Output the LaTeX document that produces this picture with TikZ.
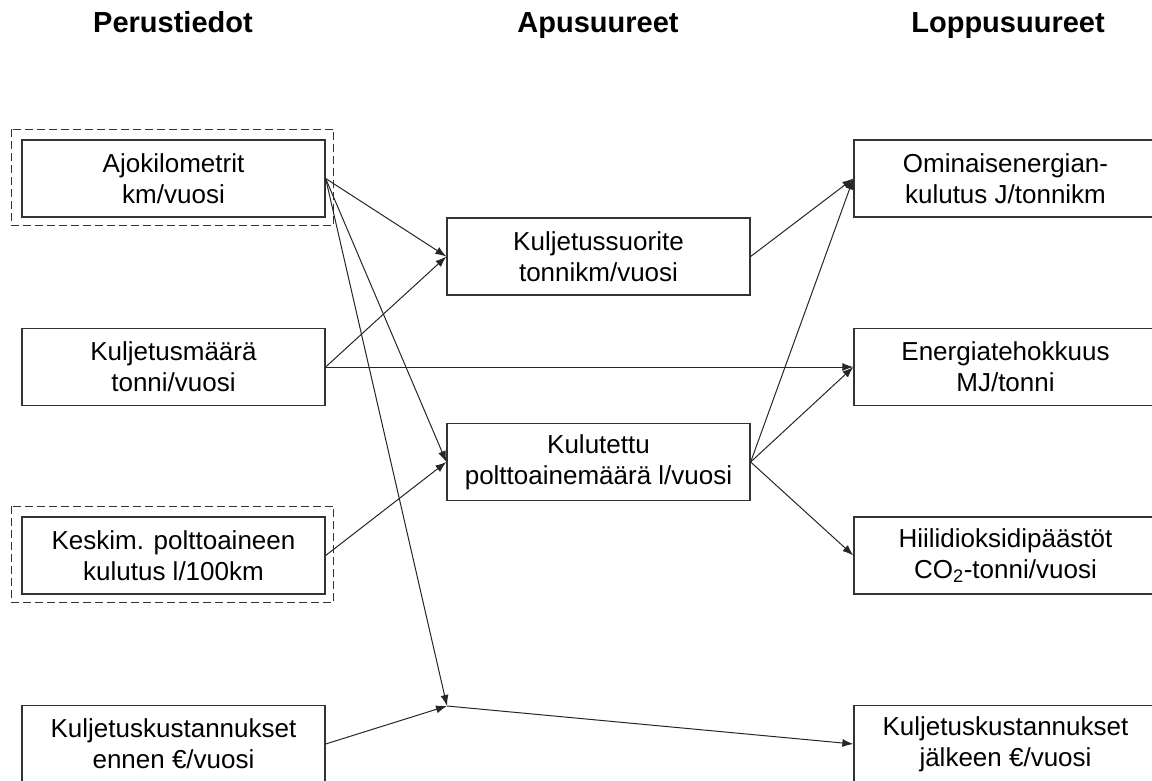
\documentclass[tikz,border=0pt]{standalone}
\usepackage{fontspec}
\setmainfont{Liberation Sans}
\usetikzlibrary{arrows.meta}
\begin{document}
\begin{tikzpicture}[x=1pt,y=-1pt,
  box/.style={draw=black!80, line width=1.3pt, minimum width=303pt, minimum height=77pt,
    inner sep=0pt, align=center, font=\fontsize{26}{31}\selectfont},
  head/.style={font=\fontsize{29}{34}\selectfont\bfseries, anchor=base},
  conn/.style={draw=black!85, line width=1pt, -{Latex[length=11pt,width=8pt]}},
  dbox/.style={draw=black!80, line width=1.3pt, dash pattern=on 8pt off 4pt}]
\useasboundingbox (0,0) rectangle (1152,781);

% headers
\node[head] (h1) at (173,33) {Perustiedot};
\node[head] (h2) at (598,33) {Apusuureet};
\node[head] (h3) at (1008,33) {Loppusuureet};

% left column
\node[box] (A) at (173.5,178.5) {Ajokilometrit\\km/vuosi};
\node[box] (B) at (173.5,367) {Kuljetusmäärä\\tonni/vuosi};
\node[box] (C) at (173.5,555.5) {Keskim. polttoaineen\\kulutus l/100km};
\node[box] (D) at (173.5,744) {Kuljetuskustannukset\\ennen €/vuosi};

% dashed frames
\draw[dbox] ([shift={(-10pt,10pt)}]A.north west) rectangle ([shift={(8pt,-8pt)}]A.south east);
\draw[dbox] ([shift={(-10pt,10pt)}]C.north west) rectangle ([shift={(8pt,-8pt)}]C.south east);

% middle column
\node[box] (M1) at (598.5,256.5) {Kuljetussuorite\\tonnikm/vuosi};
\node[box] (M2) at (598.5,462) {Kulutettu\\polttoainemäärä l/vuosi};

% right column
\node[box] (R1) at (1005.5,178.5) {Ominaisenergian-\\kulutus J/tonnikm};
\node[box] (R2) at (1005.5,367) {Energiatehokkuus\\MJ/tonni};
\node[box] (R3) at (1005.5,555.5) {Hiilidioksidipäästöt\\CO\textsubscript{2}-tonni/vuosi};
\node[box] (R4) at (1005.5,744) {Kuljetuskustannukset\\jälkeen €/vuosi};

% junction
\coordinate (J) at (447,706);

% connectors
\draw[conn] (A.east) -- (M1.west);
\draw[conn] (B.east) -- (M1.west);
\draw[conn] (A.east) -- (M2.west);
\draw[conn] (C.east) -- (M2.west);
\draw[conn] (A.east) -- (J);
\draw[conn] (D.east) -- (J);
\draw[conn] (J) -- (R4.west);
\draw[conn] (B.east) -- (R2.west);
\draw[conn] (M1.east) -- (R1.west);
\draw[conn] (M2.east) -- (R1.west);
\draw[conn] (M2.east) -- (R2.west);
\draw[conn] (M2.east) -- (R3.west);
\end{tikzpicture}
\end{document}
